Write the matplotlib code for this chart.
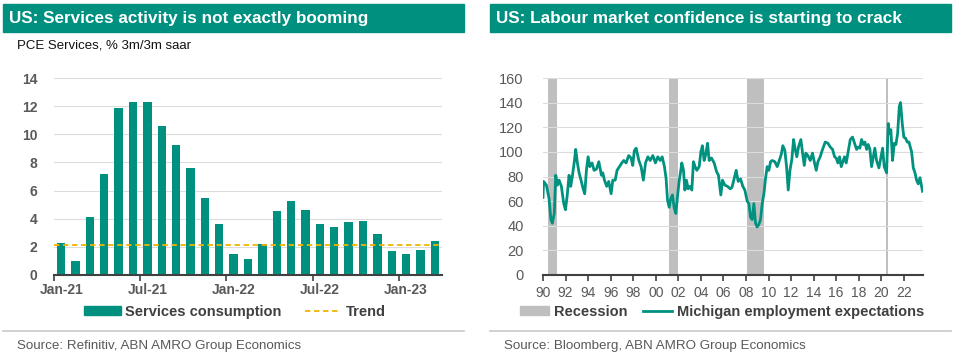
import matplotlib.pyplot as plt
import matplotlib.patches as mpatches
from matplotlib.lines import Line2D

plt.rcParams['font.family'] = ['Liberation Sans', 'DejaVu Sans']

W, H = 958, 358
TEAL = '#009080'
GREY_TXT = '#595959'

### Left panel data: PCE services, % 3m/3m saar, Jan-21 .. Mar-23
services = [2.3, 1.0, 4.1, 7.2, 11.85, 12.3, 12.3, 10.6, 9.25, 7.6, 5.45, 3.6,
            1.5, 1.15, 2.2, 4.55, 5.25, 4.65, 3.6, 3.4, 3.75, 3.85, 2.9, 1.7,
            1.5, 1.8, 2.4]
trend = 2.1
month_ticks = ['Jan-21', 'Jul-21', 'Jan-22', 'Jul-22', 'Jan-23']

### Right panel data: Michigan employment expectations
mich_t = [1990.0, 1990.05, 1990.3, 1990.54, 1990.7, 1990.83, 1991.0, 1991.13, 1991.28, 1991.43,
          1991.63, 1991.84, 1991.99, 1992.14, 1992.31, 1992.46, 1992.6, 1992.79, 1992.9, 1993.05,
          1993.2, 1993.4, 1993.56, 1993.7, 1993.85, 1994.0, 1994.15, 1994.35, 1994.53, 1994.74,
          1994.95, 1995.18, 1995.3, 1995.45, 1995.65, 1995.83, 1996.04, 1996.19, 1996.4, 1996.57,
          1996.78, 1996.99, 1997.16, 1997.37, 1997.6, 1997.81, 1997.96, 1998.1, 1998.26, 1998.5,
          1998.7, 1998.9, 1999.09, 1999.3, 1999.5, 1999.74, 1999.97, 2000.18, 2000.39, 2000.57,
          2000.77, 2000.92, 2001.04, 2001.19, 2001.33, 2001.48, 2001.63, 2001.78, 2001.93, 2002.07,
          2002.22, 2002.31, 2002.46, 2002.58, 2002.72, 2002.87, 2003.05, 2003.2, 2003.34, 2003.49,
          2003.64, 2003.85, 2004.0, 2004.14, 2004.29, 2004.44, 2004.59, 2004.74, 2004.94, 2005.18,
          2005.39, 2005.56, 2005.77, 2005.92, 2006.13, 2006.36, 2006.6, 2006.75, 2006.92, 2007.13,
          2007.31, 2007.52, 2007.72, 2007.9, 2008.11, 2008.26, 2008.4, 2008.55, 2008.7, 2008.85,
          2008.99, 2009.14, 2009.29, 2009.44, 2009.59, 2009.73, 2009.88, 2010.03, 2010.18, 2010.33,
          2010.56, 2010.77, 2010.92, 2011.13, 2011.27, 2011.45, 2011.6, 2011.75, 2011.9, 2012.07,
          2012.22, 2012.37, 2012.51, 2012.66, 2012.87, 2013.02, 2013.17, 2013.31, 2013.49, 2013.7,
          2013.9, 2014.08, 2014.23, 2014.38, 2014.58, 2014.79, 2015.03, 2015.27, 2015.47, 2015.68,
          2015.86, 2016.0, 2016.15, 2016.3, 2016.45, 2016.6, 2016.74, 2016.89, 2017.1, 2017.25,
          2017.45, 2017.63, 2017.81, 2017.96, 2018.1, 2018.25, 2018.4, 2018.55, 2018.7, 2018.84,
          2018.99, 2019.14, 2019.29, 2019.43, 2019.58, 2019.79, 2019.97, 2020.12, 2020.26, 2020.47,
          2020.62, 2020.7, 2020.85, 2021.0, 2021.15, 2021.3, 2021.45, 2021.6, 2021.71, 2021.86,
          2022.0, 2022.16, 2022.3, 2022.45, 2022.57, 2022.69, 2022.84, 2022.99, 2023.13, 2023.28,
          2023.43, 2023.58, 2023.66]
mich_v = [63, 76, 73, 62, 45, 42, 50, 81, 73, 77,
          72, 58, 53, 64, 81, 72, 80, 93, 102, 91,
          83, 76, 70, 66, 85, 96, 88, 91, 85, 86,
          92, 81, 83, 77, 72, 76, 66, 77, 77, 85,
          88, 91, 93, 91, 97, 95, 89, 101, 103, 93,
          88, 77, 91, 96, 93, 97, 91, 96, 93, 96,
          88, 78, 61, 55, 62, 65, 55, 50, 64, 76,
          85, 91, 85, 69, 77, 70, 72, 69, 92, 88,
          85, 88, 100, 105, 93, 98, 107, 93, 95, 91,
          84, 81, 65, 77, 73, 72, 70, 71, 77, 85,
          76, 78, 72, 69, 60, 58, 47, 45, 58, 42,
          39, 41, 45, 58, 66, 78, 88, 85, 92, 93,
          92, 88, 92, 98, 105, 101, 88, 69, 85, 94,
          110, 102, 96, 104, 110, 99, 89, 99, 97, 93,
          99, 91, 85, 92, 96, 102, 108, 107, 104, 102,
          96, 95, 91, 96, 88, 92, 96, 91, 102, 110,
          112, 107, 102, 104, 103, 110, 106, 108, 102, 106,
          102, 88, 96, 103, 93, 87, 96, 103, 88, 83,
          123, 115, 118, 93, 107, 106, 115, 137, 140, 123,
          112, 111, 108, 108, 104, 100, 87, 83, 77, 74,
          79, 72, 68]
recessions = [(1990.45, 1991.25), (2001.2, 2001.93), (2008.1, 2009.6), (2020.38, 2020.6)]
year_ticks = list(range(1990, 2023, 2))

fig = plt.figure(figsize=(W / 100, H / 100), dpi=100)


def fx(px):
    return px / W


def fy(py):
    return 1 - py / H


### Title bars, subtitle, separators and sources
for x0, x1, title in [(3, 464, 'US: Services activity is not exactly booming'),
                      (490, 951, 'US: Labour market confidence is starting to crack')]:
    fig.patches.append(mpatches.Rectangle((fx(x0), fy(32)), fx(x1 - x0), 28 / H,
                                          transform=fig.transFigure, color=TEAL, zorder=0))
    fig.text(fx(x0 + 6), fy(18), title, color='white', fontsize=12.3, fontweight='bold',
             va='center', ha='left')
    fig.add_artist(Line2D([fx(x0), fx(x1)], [fy(331), fy(331)], color='#c8c8c8', lw=1.2))

fig.text(fx(17), fy(45), 'PCE Services, % 3m/3m saar', fontsize=9.5, va='center', color='#111111')
fig.text(fx(17), fy(346), 'Source: Refinitiv, ABN AMRO Group Economics', fontsize=9.6,
         va='center', color=GREY_TXT)
fig.text(fx(504), fy(346), 'Source: Bloomberg, ABN AMRO Group Economics', fontsize=9.6,
         va='center', color=GREY_TXT)

### Left: bars
ax = fig.add_axes([fx(54), fy(275), fx(442 - 54), (275 - 78) / H])
x = list(range(len(services)))
ax.bar(x, services, width=0.58, color=TEAL, zorder=2)
ax.axhline(trend, color='#f0b400', lw=1.3, ls=(0, (3, 2)), zorder=3)
ax.set_xlim(-0.5, len(services) - 0.5)
ax.set_ylim(0, 14)
ax.set_yticks(range(0, 15, 2))
ax.set_xticks([i * 6 for i in range(len(month_ticks))])
ax.set_xticklabels(month_ticks)
ax.set_xticks([i * 6 - 0.5 for i in range(len(month_ticks))], minor=True)
ax.tick_params(axis='x', which='major', length=0, pad=6, labelsize=10, labelcolor=GREY_TXT)
ax.tick_params(axis='x', which='minor', length=4, width=1.2, color='#404040')
ax.tick_params(axis='y', length=0, pad=12, labelsize=10, labelcolor=GREY_TXT)
for lab in ax.get_xticklabels() + ax.get_yticklabels():
    lab.set_fontweight('bold')
ax.grid(axis='y', color='#dcdcdc', lw=0.8, zorder=0)
for s in ['top', 'right', 'left']:
    ax.spines[s].set_visible(False)
ax.spines['bottom'].set_color('#404040')
ax.spines['bottom'].set_linewidth(1.5)
ax.spines['bottom'].set_zorder(4)

h1 = mpatches.Patch(color=TEAL, label='Services consumption')
h2 = Line2D([], [], color='#f0b400', lw=1.3, ls=(0, (3, 2)), label='Trend')
leg = fig.legend(handles=[h1, h2], loc='center', bbox_to_anchor=(fx(235), fy(312)), ncol=2,
                 frameon=False, fontsize=10.5, handlelength=2.5, handleheight=0.55,
                 handletextpad=0.3, columnspacing=1.6, borderpad=0)
for t in leg.get_texts():
    t.set_fontweight('bold')
    t.set_color('#404040')

### Right: line
bx = fig.add_axes([fx(543), fy(275), fx(923 - 543), (275 - 78) / H])
for a, b in recessions:
    bx.axvspan(a, b, color='#bfbfbf', lw=0, zorder=1)
bx.plot(mich_t, mich_v, color='#00917f', lw=2.0, zorder=3)
bx.set_xlim(1990, 2023.7)
bx.set_ylim(0, 160)
bx.set_yticks(range(0, 161, 20))
bx.set_xticks(year_ticks)
bx.set_xticklabels([f'{y % 100:02d}' for y in year_ticks])
bx.tick_params(axis='x', length=4, width=1.2, color='#404040', pad=4, labelsize=10,
               labelcolor=GREY_TXT)
bx.tick_params(axis='y', length=0, pad=14, labelsize=10.5, labelcolor=GREY_TXT)
bx.grid(axis='y', color='#dcdcdc', lw=0.8, zorder=0)
for s in ['top', 'right', 'left']:
    bx.spines[s].set_visible(False)
bx.spines['bottom'].set_color('#404040')
bx.spines['bottom'].set_linewidth(1.5)
bx.spines['bottom'].set_zorder(4)

g1 = mpatches.Patch(color='#bfbfbf', label='Recession')
g2 = Line2D([], [], color='#00917f', lw=2.0, label='Michigan employment expectations')
leg2 = fig.legend(handles=[g1, g2], loc='center', bbox_to_anchor=(fx(722), fy(312)), ncol=2,
                  frameon=False, fontsize=10.5, handlelength=2.0, handleheight=0.55,
                  handletextpad=0.3, columnspacing=1.1, borderpad=0)
for t in leg2.get_texts():
    t.set_fontweight('bold')
    t.set_color('#404040')

fig.savefig('out.png', dpi=100)
